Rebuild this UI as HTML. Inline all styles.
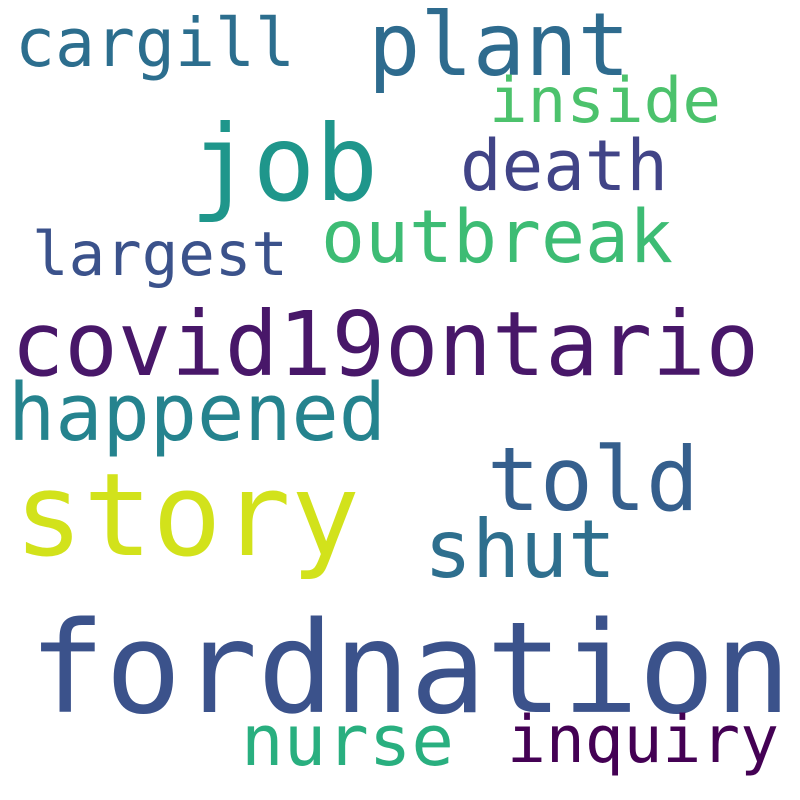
<!DOCTYPE html>
<html><head><meta charset="utf-8"><style>
html,body{margin:0;padding:0;background:#fff;}
svg{display:block;}
text{font-family:"DejaVu Sans Mono","Liberation Mono",monospace;}
</style></head><body>
<svg width="800" height="800" viewBox="0 0 800 800">
<rect x="0" y="0" width="800" height="800" fill="#ffffff"/>
<text x="15" y="66" font-size="67" fill="#2c6e8e" textLength="280" lengthAdjust="spacingAndGlyphs">cargill</text>
<text x="368" y="75" font-size="87" fill="#2e6b8e" textLength="262" lengthAdjust="spacingAndGlyphs">plant</text>
<text x="489" y="122" font-size="62" fill="#4cc26c" textLength="232" lengthAdjust="spacingAndGlyphs">inside</text>
<text x="190" y="200" font-size="105" fill="#1f968b" textLength="188" lengthAdjust="spacingAndGlyphs">job</text>
<text x="460" y="190" font-size="70" fill="#414487" textLength="208" lengthAdjust="spacingAndGlyphs">death</text>
<text x="321" y="262" font-size="73" fill="#3dbc74" textLength="352" lengthAdjust="spacingAndGlyphs">outbreak</text>
<text x="32" y="275" font-size="61" fill="#3b528b" textLength="256" lengthAdjust="spacingAndGlyphs">largest</text>
<text x="11" y="375" font-size="89" fill="#481769" textLength="748" lengthAdjust="spacingAndGlyphs">covid19ontario</text>
<text x="8" y="440" font-size="79" fill="#25838e" textLength="378" lengthAdjust="spacingAndGlyphs">happened</text>
<text x="487" y="510" font-size="88" fill="#355f8d" textLength="212" lengthAdjust="spacingAndGlyphs">told</text>
<text x="14" y="555" font-size="115" fill="#d2e21b" textLength="346" lengthAdjust="spacingAndGlyphs">story</text>
<text x="424" y="577" font-size="80" fill="#2e6f8e" textLength="192" lengthAdjust="spacingAndGlyphs">shut</text>
<text x="29" y="712" font-size="127" fill="#3b528b" textLength="762" lengthAdjust="spacingAndGlyphs">fordnation</text>
<text x="241" y="765" font-size="70" fill="#29af7f" textLength="213" lengthAdjust="spacingAndGlyphs">nurse</text>
<text x="507" y="762" font-size="65" fill="#440154" textLength="272" lengthAdjust="spacingAndGlyphs">inquiry</text>
</svg>
</body></html>
